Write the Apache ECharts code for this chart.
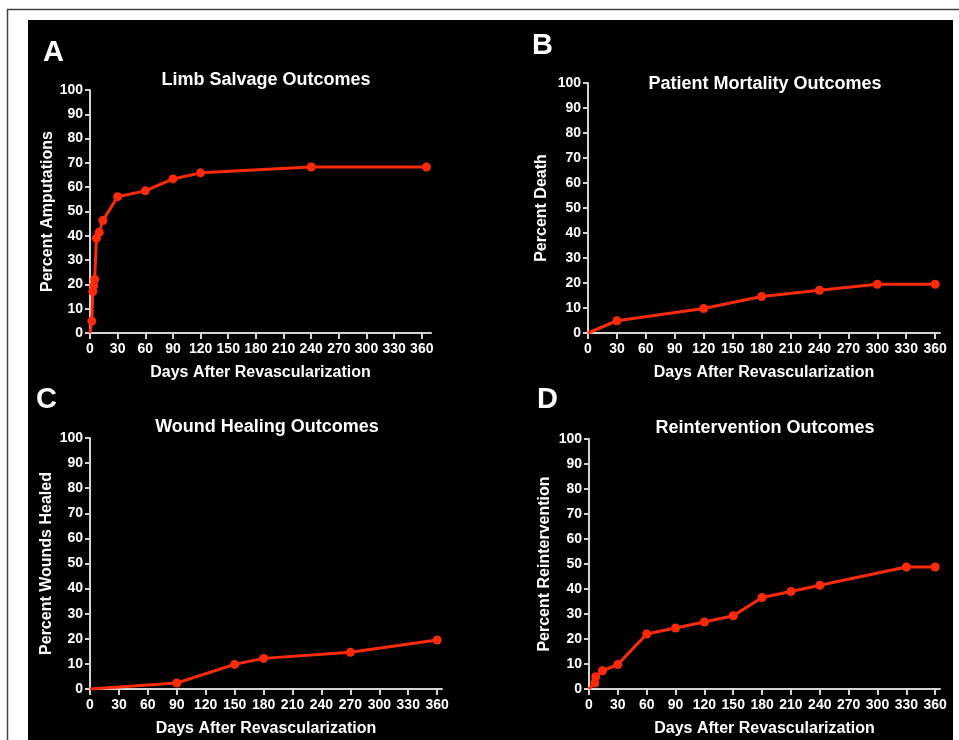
<!DOCTYPE html>
<html>
<head>
<meta charset="utf-8">
<script src="https://cdn.jsdelivr.net/npm/echarts@6/dist/echarts.min.js"></script>
<style>
  html, body { margin: 0; padding: 0; background: #fff; }
  #main { width: 959px; height: 740px; }
</style>
</head>
<body>
<div id="main"></div>
<script>
// A - limb salvage (percent amputations)
var limbDays = [0, 2, 3, 4, 5, 7, 10, 14, 30, 60, 90, 120, 240, 365];
var limbVals = [0, 4.9, 17.1, 19.5, 22.0, 39.0, 41.5, 46.3, 56.1, 58.5, 63.4, 65.9, 68.3, 68.3];
// B - patient mortality
var deathDays = [0, 30, 120, 180, 240, 300, 360];
var deathVals = [0, 4.9, 9.8, 14.6, 17.1, 19.5, 19.5];
// C - wound healing
var woundDays = [0, 90, 150, 180, 270, 360];
var woundVals = [0, 2.4, 9.8, 12.2, 14.6, 19.5];
// D - reintervention
var reintDays = [0, 6, 7, 14, 30, 60, 90, 120, 150, 180, 210, 240, 330, 360];
var reintVals = [0, 2.4, 4.9, 7.3, 9.8, 22.0, 24.4, 26.8, 29.3, 36.6, 39.0, 41.5, 48.8, 48.8];

var xTicks = [0, 30, 60, 90, 120, 150, 180, 210, 240, 270, 300, 330, 360];
var panelTitles = ['Limb Salvage Outcomes', 'Patient Mortality Outcomes', 'Wound Healing Outcomes', 'Reintervention Outcomes'];
var yNames = ['Percent Amputations', 'Percent Death', 'Percent Wounds Healed', 'Percent Reintervention'];
var letters = ['A', 'B', 'C', 'D'];
var xName = 'Days After Revascularization';

var FONT = 'Liberation Sans';
var AXIS_COLOR = '#d4d4d4';
var RED = '#ff2a0a';

// pixel boxes of the four plots [left, top, width, height], x max
var boxes = [
  [90, 90, 341, 243, 370],
  [588, 83, 352, 250, 365],
  [90, 438, 352, 251, 365],
  [589, 439, 351, 250, 365]
];
var titlePos = [[261, 66], [760, 70], [262, 413], [760, 414]];
var letterPos = [[38, 33], [527, 26], [31, 380], [532, 380]];
var yNameGaps = [33, 38, 35, 36];

function toPairs(days, vals) {
  var out = [];
  for (var i = 0; i < days.length; i++) {
    if (days[i] == 0 && vals[i] == 0) {
      out.push({ value: [0, 0], symbol: 'none' });
    } else {
      out.push([days[i], vals[i]]);
    }
  }
  return out;
}

var seriesData = [
  toPairs(limbDays, limbVals),
  toPairs(deathDays, deathVals),
  toPairs(woundDays, woundVals),
  toPairs(reintDays, reintVals)
];

var grids = [], xAxes = [], yAxes = [], series = [], titles = [];
for (var i = 0; i < 4; i++) {
  var b = boxes[i];
  grids.push({ left: b[0], top: b[1], width: b[2], height: b[3], containLabel: false });
  xAxes.push({
    type: 'value', gridIndex: i, min: 0, max: b[4],
    name: xName, nameLocation: 'middle', nameGap: 32,
    nameTextStyle: { color: '#fff', fontFamily: FONT, fontWeight: 'bold', fontSize: 16 },
    splitLine: { show: false },
    axisLine: { show: true, lineStyle: { color: AXIS_COLOR, width: 2 } },
    axisTick: { show: true, length: 6, customValues: xTicks, lineStyle: { color: AXIS_COLOR, width: 2 } },
    axisLabel: { customValues: xTicks, color: '#fff', fontFamily: FONT, fontWeight: 'bold', fontSize: 14, margin: 9 }
  });
  yAxes.push({
    type: 'value', gridIndex: i, min: 0, max: 100, interval: 10,
    name: yNames[i], nameLocation: 'middle', nameGap: yNameGaps[i],
    nameTextStyle: { color: '#fff', fontFamily: FONT, fontWeight: 'bold', fontSize: 16 },
    splitLine: { show: false },
    axisLine: { show: true, lineStyle: { color: AXIS_COLOR, width: 2 } },
    axisTick: { show: true, length: 5, lineStyle: { color: AXIS_COLOR, width: 2 } },
    axisLabel: { color: '#fff', fontFamily: FONT, fontWeight: 'bold', fontSize: 14, margin: 7 }
  });
  series.push({
    type: 'line', xAxisIndex: i, yAxisIndex: i,
    data: seriesData[i],
    symbol: 'circle', symbolSize: 9, showAllSymbol: true,
    lineStyle: { color: RED, width: 3 },
    itemStyle: { color: RED },
    z: 5, animation: false
  });
  titles.push({
    text: panelTitles[i], left: titlePos[i][0], top: titlePos[i][1], textAlign: 'center',
    textStyle: { color: '#fff', fontFamily: FONT, fontWeight: 'bold', fontSize: 18 }
  });
  titles.push({
    text: letters[i], left: letterPos[i][0], top: letterPos[i][1],
    textStyle: { color: '#fff', fontFamily: FONT, fontWeight: 'bold', fontSize: 29 }
  });
}

var myChart = echarts.init(document.getElementById('main'));
var option = {
  backgroundColor: '#fff',
  animation: false,
  graphic: [
    { type: 'rect', z: -10, shape: { x: 28, y: 20, width: 925, height: 720 }, style: { fill: '#000' } },
    { type: 'polyline', z: -10, shape: { points: [[7.5, 740], [7.5, 9.5], [959, 9.5]] }, style: { stroke: '#444', lineWidth: 1.5, fill: null } }
  ],
  title: titles,
  grid: grids,
  xAxis: xAxes,
  yAxis: yAxes,
  series: series
};
myChart.setOption(option);
</script>
</body>
</html>
